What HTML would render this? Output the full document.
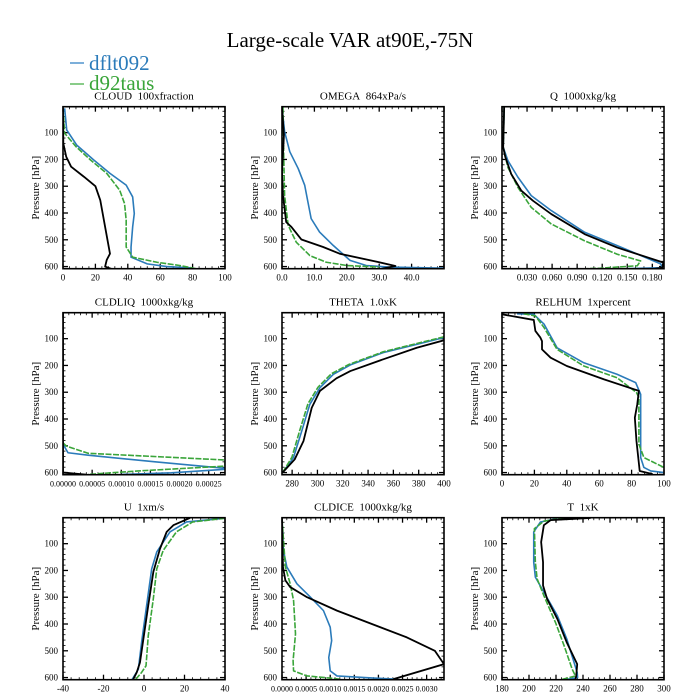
<!DOCTYPE html>
<html><head><meta charset="utf-8"><style>
html,body{margin:0;padding:0;background:#fff;}
svg{display:block;font-family:"Liberation Serif",serif;}
</style></head><body>
<svg id="chart" width="700" height="700" viewBox="0 0 700 700" xmlns="http://www.w3.org/2000/svg">
<text x="350" y="47" font-size="21" text-anchor="middle">Large-scale VAR at90E,-75N</text>
<g>
<line x1="70" y1="63" x2="84" y2="63" stroke="#5b9bd0" stroke-width="1.6"/>
<text x="89" y="70" font-size="21" fill="#2b7bba">dflt092</text>
<line x1="70" y1="84" x2="84" y2="84" stroke="#6cc06c" stroke-width="1.6"/>
<text x="89" y="90" font-size="21" fill="#3aa53a">d92taus</text>
</g>
</svg>
<script>
// ---- data: [pressure hPa, value] pairs ----
const cloudBlue=[[9,1],[90,2.3],[146,8.4],[202,19],[252,29],[296,39],[340,43],[402,44],[452,43],[527,42],[565,42],[590,52],[600,64],[605,80]];
const cloudGreen=[[9,0],[102,1],[152,8],[202,17],[252,27],[315,35],[365,38],[427,39],[527,39],[565,43],[584,58],[596,72],[609,83]];
const cloudBlack=[[9,0],[140,0.2],[190,2],[227,5],[265,13],[300,20],[352,23],[452,26],[552,29],[575,27],[600,26],[609,30]];
const omegaBlue=[[6,0],[96,0.8],[171,2.4],[234,5],[296,7],[359,8],[421,9],[471,11.6],[521,15.8],[577,21],[596,26],[602,33],[606,50]];
const omegaGreen=[[6,0.3],[171,0.5],[334,0.8],[446,1.9],[509,4.4],[559,8.6],[584,13.7],[596,20],[602,30]];
const omegaBlack=[[6,0],[109,0.6],[246,0],[334,0.3],[434,1.3],[452,2.9],[499,6],[527,12.7],[552,17.8],[584,30],[598,35],[610,30]];
const qBlue=[[4,0.0026],[154,0.0014],[204,0.007],[266,0.019],[335,0.035],[391,0.059],[472,0.099],[522,0.138],[590,0.190],[604,0.192],[608,0.15]];
const qGreen=[[4,0.0026],[154,0.0014],[229,0.007],[304,0.019],[379,0.035],[441,0.059],[504,0.099],[554,0.138],[579,0.166],[597,0.162],[606,0.118],[611,0.079]];
const qBlack=[[4,0.0026],[154,0.0014],[191,0.004],[254,0.011],[316,0.023],[354,0.037],[404,0.059],[479,0.099],[529,0.138],[585,0.193],[604,0.192],[610,0.18]];
const liqBlue=[[494,0],[526,0.0000086],[535,0.000043],[560,0.000158],[584,0.000278],[588,0.000278],[601,0.000186],[607,0.0001]];
const liqGreen=[[489,0],[501,0.0000057],[528,0.000043],[553,0.000278],[576,0.000278],[594,0.000129],[607,0.000043]];
const liqBlack=[[3,0],[600,0],[608,0.00004]];
const thetaBlue=[[96,400],[121,378.5],[152,352],[198,326],[233,312.6],[283,302],[345,294],[445,287.6],[545,281],[600,272.5]];
const thetaGreen=[[93,400],[118,378.5],[149,352],[196,325],[231,311],[281,300.5],[343,292.5],[443,286],[543,279.8],[600,272.5]];
const thetaBlack=[[106,400],[134,378.5],[177,352],[221,326],[248,315],[295,302],[358,295.5],[482,289],[551,282],[600,272.5]];
const rhBlue=[[7,9.3],[9,19.6],[46,26],[134,34],[190,50.5],[233,71],[264,82.5],[308,85.6],[544,85.6],[581,87.6],[594,91.8],[600,100]];
const rhGreen=[[7,13.4],[15,20.6],[59,26],[140,34],[202,50.5],[246,71],[301,83],[320,84.5],[494,84.5],[544,87.6],[581,100]];
const rhBlack=[[9,0],[30,19.6],[71,20.6],[96,23.7],[109,24.7],[140,24.7],[171,30],[202,40],[252,63],[295,84.5],[345,83.5],[395,82],[482,83],[594,85],[606,93]];
const uBlue=[[5,40],[19,21],[56,12.8],[131,6.3],[194,3.8],[331,1.3],[469,-1.2],[569,-2.8],[609,-6]];
const uGreen=[[5,40],[19,24],[56,16],[125,9.5],[194,6.3],[306,4.6],[444,2.1],[556,1],[581,-1.2],[606,-4]];
const uBlack=[[4,22.7],[31,14.5],[56,11.2],[119,7.9],[206,4.6],[331,2.1],[456,-0.3],[544,-2],[581,-3.6],[606,-5.3]];
const iceBlue=[[6,0],[125,0.00003],[187,0.0001],[250,0.00031],[300,0.00059],[350,0.00086],[412,0.001],[462,0.00103],[525,0.00097],[575,0.001],[594,0.00114],[602,0.0019],[606,0.00238]];
const iceGreen=[[6,0],[187,0.00007],[250,0.00017],[312,0.00024],[437,0.00028],[537,0.00023],[575,0.00024],[594,0.00052],[602,0.001],[606,0.0012]];
const iceBlack=[[6,0],[187,0.00002],[237,0.00007],[262,0.00017],[300,0.00052],[350,0.00114],[450,0.00259],[500,0.00317],[550,0.00336],[606,0.00231]];
const tBlue=[[6,221],[19,208.5],[56,203.5],[169,203.5],[225,204.7],[281,211],[369,221],[456,228],[581,235.7],[600,236],[609,225.8]];
const tGreen=[[4,226],[16,211],[44,204],[169,204.7],[231,206],[294,211],[394,219.6],[481,226],[569,232],[594,234.4],[609,223]];
const tBlack=[[4,245.6],[12,216],[31,211],[94,209],[169,210.4],[256,210.4],[306,213.4],[381,221],[469,228],[550,235.7],[594,235],[606,234.4]];
// tick labels
const pTicks=[100,200,300,400,500,600];
const cloudTicks=["0","20","40","60","80","100"];
const omegaTicks=["0.0","10.0","20.0","30.0","40.0"];
const qTicks=["0.030","0.060","0.090","0.120","0.150","0.180"];
const liqTicks=["0.00000","0.00005","0.00010","0.00015","0.00020","0.00025"];
const thetaTicks=["280","300","320","340","360","380","400"];
const rhTicks=["0","20","40","60","80","100"];
const uTicks=["-40","-20","0","20","40"];
const iceTicks=["0.0000","0.0005","0.0010","0.0015","0.0020","0.0025","0.0030"];
const tTicks=["180","200","220","240","260","280","300"];

const NS="http://www.w3.org/2000/svg";
const svg=document.getElementById('chart');
function mk(tag,attrs,parent){const e=document.createElementNS(NS,tag);for(const k in attrs)e.setAttribute(k,attrs[k]);(parent||svg).appendChild(e);return e;}
const W=162,H=162,PMIN=3,PMAX=608;
const panels=[
 {id:'cloud',title:'CLOUD\u00a0\u00a0100xfraction',x:63,y:106.7,d:[0,100],ticks:cloudTicks,minor:4,s:[cloudBlue,cloudGreen,cloudBlack]},
 {id:'omega',title:'OMEGA\u00a0\u00a0864xPa/s',x:282,y:106.7,d:[0,50],ticks:omegaTicks,minor:4,s:[omegaBlue,omegaGreen,omegaBlack]},
 {id:'q',title:'Q\u00a0\u00a01000xkg/kg',x:502,y:106.7,d:[0,0.194],ticks:qTicks,minor:2,s:[qBlue,qGreen,qBlack]},
 {id:'cldliq',title:'CLDLIQ\u00a0\u00a01000xkg/kg',x:63,y:312.7,d:[0,0.000278],ticks:liqTicks,minor:4,s:[liqBlue,liqGreen,liqBlack]},
 {id:'theta',title:'THETA\u00a0\u00a01.0xK',x:282,y:312.7,d:[272,400],ticks:thetaTicks,minor:3,s:[thetaBlue,thetaGreen,thetaBlack]},
 {id:'relhum',title:'RELHUM\u00a0\u00a01xpercent',x:502,y:312.7,d:[0,100],ticks:rhTicks,minor:4,s:[rhBlue,rhGreen,rhBlack]},
 {id:'u',title:'U\u00a0\u00a01xm/s',x:63,y:517.7,d:[-40,40],ticks:uTicks,minor:4,s:[uBlue,uGreen,uBlack]},
 {id:'cldice',title:'CLDICE\u00a0\u00a01000xkg/kg',x:282,y:517.7,d:[0,0.00336],ticks:iceTicks,minor:4,s:[iceBlue,iceGreen,iceBlack]},
 {id:'t',title:'T\u00a0\u00a01xK',x:502,y:517.7,d:[180,300],ticks:tTicks,minor:4,s:[tBlue,tGreen,tBlack]}
];
const colors=['#2b7bba','#3aa53a','#000000'];
const names=['dflt092','d92taus','control'];
panels.forEach(P=>{
 const g=mk('g',{});
 
 
 const xs=v=>P.x+(v-P.d[0])/(P.d[1]-P.d[0])*W;
 const ys=p=>P.y+(p-PMIN)/(PMAX-PMIN)*H;
 const cid='clip-'+P.id;
 const cp=mk('clipPath',{id:cid},g);mk('rect',{x:P.x,y:P.y,width:W,height:H},cp);
 const t=mk('text',{x:P.x+W/2,y:P.y-7,'font-size':11,'text-anchor':'middle'},g);
 
 
 t.textContent=P.title;
 const yt=mk('text',{x:0,y:0,'font-size':11,'text-anchor':'middle',transform:`translate(${P.x-24},${P.y+H/2}) rotate(-90)`},g);
 
 
 yt.textContent='Pressure [hPa]';
 for(let p=20;p<=600;p+=20){
  const y=ys(p);const major=p%100===0;const L=major?5:2.5;
  mk('line',{x1:P.x,y1:y,x2:P.x+L,y2:y,stroke:'#000','stroke-width':major?1.3:0.8},g);
  mk('line',{x1:P.x+W,y1:y,x2:P.x+W-L,y2:y,stroke:'#000','stroke-width':major?1.3:0.8},g);
 }
 pTicks.forEach(p=>{
  const tl=mk('text',{x:P.x-5,y:ys(p)+3,'font-size':9,'text-anchor':'end'},g);
  
  
  tl.textContent=String(p);
 });
 const vals=P.ticks.map(Number);
 const step=vals[1]-vals[0];
 let start=vals[0];while(start-step>=P.d[0]-1e-12)start-=step;
 for(let v=start;v<=P.d[1]+1e-12;v+=step){
  const X=xs(v);
  mk('line',{x1:X,y1:P.y+H,x2:X,y2:P.y+H-5,stroke:'#000','stroke-width':1.3},g);
  mk('line',{x1:X,y1:P.y,x2:X,y2:P.y+5,stroke:'#000','stroke-width':1.3},g);
  for(let k=1;k<=P.minor;k++){
   const vm=v+step*k/(P.minor+1);if(vm>P.d[1])break;const Xm=xs(vm);
   mk('line',{x1:Xm,y1:P.y+H,x2:Xm,y2:P.y+H-2.5,stroke:'#000','stroke-width':0.8},g);
   mk('line',{x1:Xm,y1:P.y,x2:Xm,y2:P.y+2.5,stroke:'#000','stroke-width':0.8},g);
  }
 }
 P.ticks.forEach(s=>{
  const tl=mk('text',{x:xs(Number(s)),y:P.y+H+12,'font-size':s.length>5?8:9,'text-anchor':'middle'},g);
  
  
  tl.textContent=s;
 });
 const sg=mk('g',{'clip-path':`url(#${cid})`},g);
 P.s.forEach((ser,i)=>{
  const pts=ser.map(d=>xs(d[1]).toFixed(2)+','+ys(d[0]).toFixed(2)).join(' ');
  const pl=mk('polyline',{points:pts,fill:'none',stroke:colors[i],'stroke-width':i===2?1.8:1.6,'stroke-linejoin':'round'},sg);
  if(i===1)pl.setAttribute('stroke-dasharray','6,1.5');
  
  
 });
 const fr=mk('rect',{x:P.x,y:P.y,width:W,height:H,fill:'none',stroke:'#000','stroke-width':1.6},g);
 
 
});
</script>
</body></html>
